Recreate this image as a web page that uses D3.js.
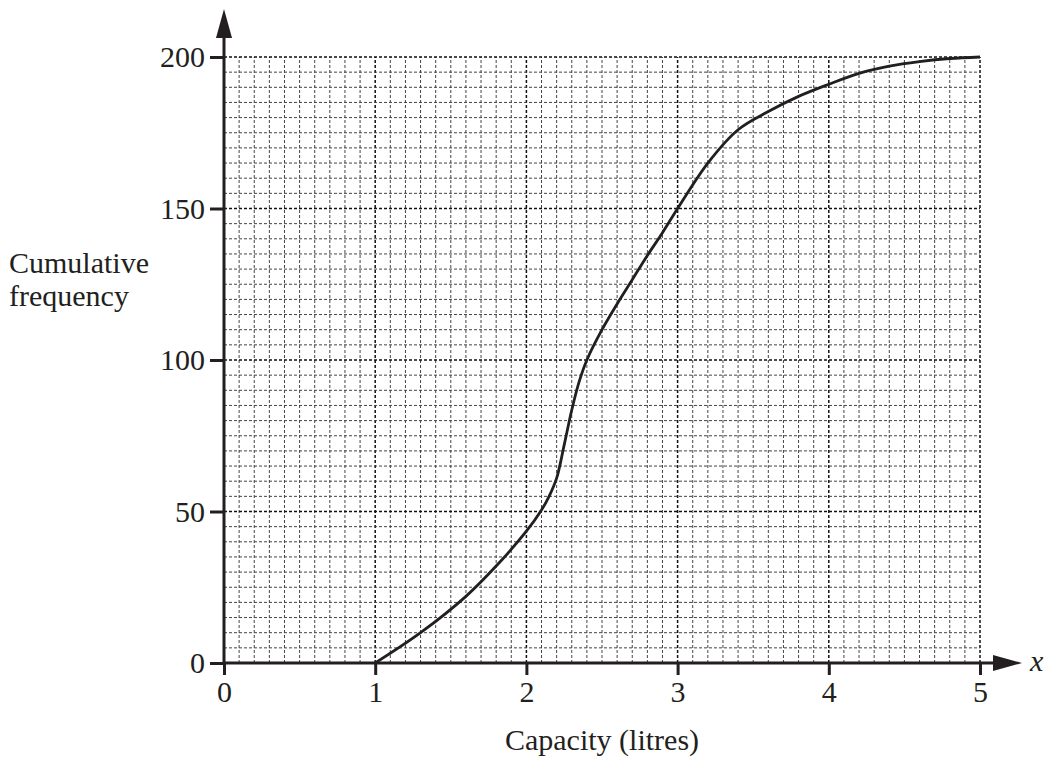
<!DOCTYPE html>
<html>
<head>
<meta charset="utf-8">
<script src="https://cdn.jsdelivr.net/npm/d3@7"></script>
<style>
  body { margin: 0; background: #fff; }
  text { font-family: "Liberation Serif", "Times New Roman", serif; fill: #231f20; }
</style>
</head>
<body>
<div id="chart-area"></div>
<script>
/*
*    cumulative frequency curve
*/

// values
var capacity = [1, 1.3, 1.6, 1.8, 2.0, 2.1, 2.15, 2.2, 2.25, 2.3, 2.35, 2.4, 2.5, 2.6, 2.7, 2.8, 2.9, 3.0, 3.2, 3.4, 3.6, 3.8, 4.0, 4.2, 4.4, 4.6, 4.8, 5.0];
var cumFreq  = [0, 10, 22, 32, 43.5, 50.5, 55, 61, 72, 83.5, 93, 100, 110, 118.5, 126.5, 134.5, 142, 150, 165, 176, 182, 187, 191, 194.6, 197, 198.5, 199.5, 200];
var xTicks = [0, 1, 2, 3, 4, 5];
var yTicks = [0, 50, 100, 150, 200];

var W = 1049, H = 763;

var svg = d3.select("#chart-area")
  .append("svg")
    .attr("width", W)
    .attr("height", H);

var x = d3.scaleLinear().domain([0, 5]).range([224, 980]);
var y = d3.scaleLinear().domain([0, 200]).range([663, 57]);

// grid: minor every 0.1 / 5, major every 1 / 50
var grid = svg.append("g").attr("class", "grid");
d3.range(0, 51).forEach((i) => {
    var v = i / 10;
    var major = i % 10 == 0;
    grid.append("line")
        .attr("x1", x(v)).attr("x2", x(v))
        .attr("y1", y(0)).attr("y2", y(200))
        .attr("stroke", major ? "#111" : "#444")
        .attr("stroke-width", major ? 1.5 : 1)
        .attr("stroke-dasharray", "3,2");
});
d3.range(0, 41).forEach((i) => {
    var v = i * 5;
    var major = i % 10 == 0;
    grid.append("line")
        .attr("x1", x(0)).attr("x2", x(5))
        .attr("y1", y(v)).attr("y2", y(v))
        .attr("stroke", major ? "#111" : "#444")
        .attr("stroke-width", major ? 1.5 : 1)
        .attr("stroke-dasharray", "3,2");
});

// axes lines with arrows
svg.append("line")
    .attr("x1", x(0)).attr("x2", 995)
    .attr("y1", y(0)).attr("y2", y(0))
    .attr("stroke", "#231f20").attr("stroke-width", 3);
svg.append("path")
    .attr("d", "M993," + (y(0) - 8) + " L1022," + y(0) + " L993," + (y(0) + 8) + " Z")
    .attr("fill", "#231f20");
svg.append("line")
    .attr("x1", x(0)).attr("x2", x(0))
    .attr("y1", y(0) + 1.5).attr("y2", 36)
    .attr("stroke", "#231f20").attr("stroke-width", 3);
svg.append("path")
    .attr("d", "M" + (x(0) - 8) + ",38 L" + x(0) + ",9 L" + (x(0) + 8) + ",38 Z")
    .attr("fill", "#231f20");

var bottomAxis = d3.axisBottom(x)
    .tickValues(xTicks)
    .tickSize(12)
    .tickSizeOuter(0)
    .tickPadding(6)
    .tickFormat(d3.format("d"));
var gx = svg.append("g")
    .attr("class", "bottom axis")
    .attr("transform", "translate(0, " + y(0) + ")")
    .call(bottomAxis);
gx.select(".domain").remove();
gx.selectAll(".tick line").attr("stroke", "#231f20").attr("stroke-width", 3);
gx.selectAll(".tick text")
    .attr("font-size", "30px")
    .attr("font-family", "Liberation Serif, serif")
    .attr("fill", "#231f20");

var leftAxis = d3.axisLeft(y)
    .tickValues(yTicks)
    .tickSize(14)
    .tickSizeOuter(0)
    .tickPadding(5)
    .tickFormat(d3.format("d"));
var gy = svg.append("g")
    .attr("class", "left axis")
    .attr("transform", "translate(" + x(0) + ", 0)")
    .call(leftAxis);
gy.select(".domain").remove();
gy.selectAll(".tick line").attr("stroke", "#231f20").attr("stroke-width", 3);
gy.selectAll(".tick text")
    .attr("font-size", "30px")
    .attr("font-family", "Liberation Serif, serif")
    .attr("fill", "#231f20");

// curve
var pts = capacity.map((c, i) => [c, cumFreq[i]]);
var line = d3.line()
    .x((d) => x(d[0]))
    .y((d) => y(d[1]))
    .curve(d3.curveCatmullRom.alpha(0.5));
svg.append("path")
    .datum(pts)
    .attr("d", line)
    .attr("fill", "none")
    .attr("stroke", "#231f20")
    .attr("stroke-width", 2.8);

// labels
svg.append("text")
    .attr("x", 1030)
    .attr("y", 671)
    .attr("font-size", "30px")
    .attr("font-style", "italic")
    .text("x");

svg.append("text")
    .attr("x", 602)
    .attr("y", 750)
    .attr("font-size", "30px")
    .attr("text-anchor", "middle")
    .text("Capacity (litres)");

var yl = svg.append("text")
    .attr("x", 9)
    .attr("y", 273)
    .attr("font-size", "30px");
yl.append("tspan").attr("x", 9).text("Cumulative");
yl.append("tspan").attr("x", 9).attr("dy", 33).text("frequency");
</script>
</body>
</html>
